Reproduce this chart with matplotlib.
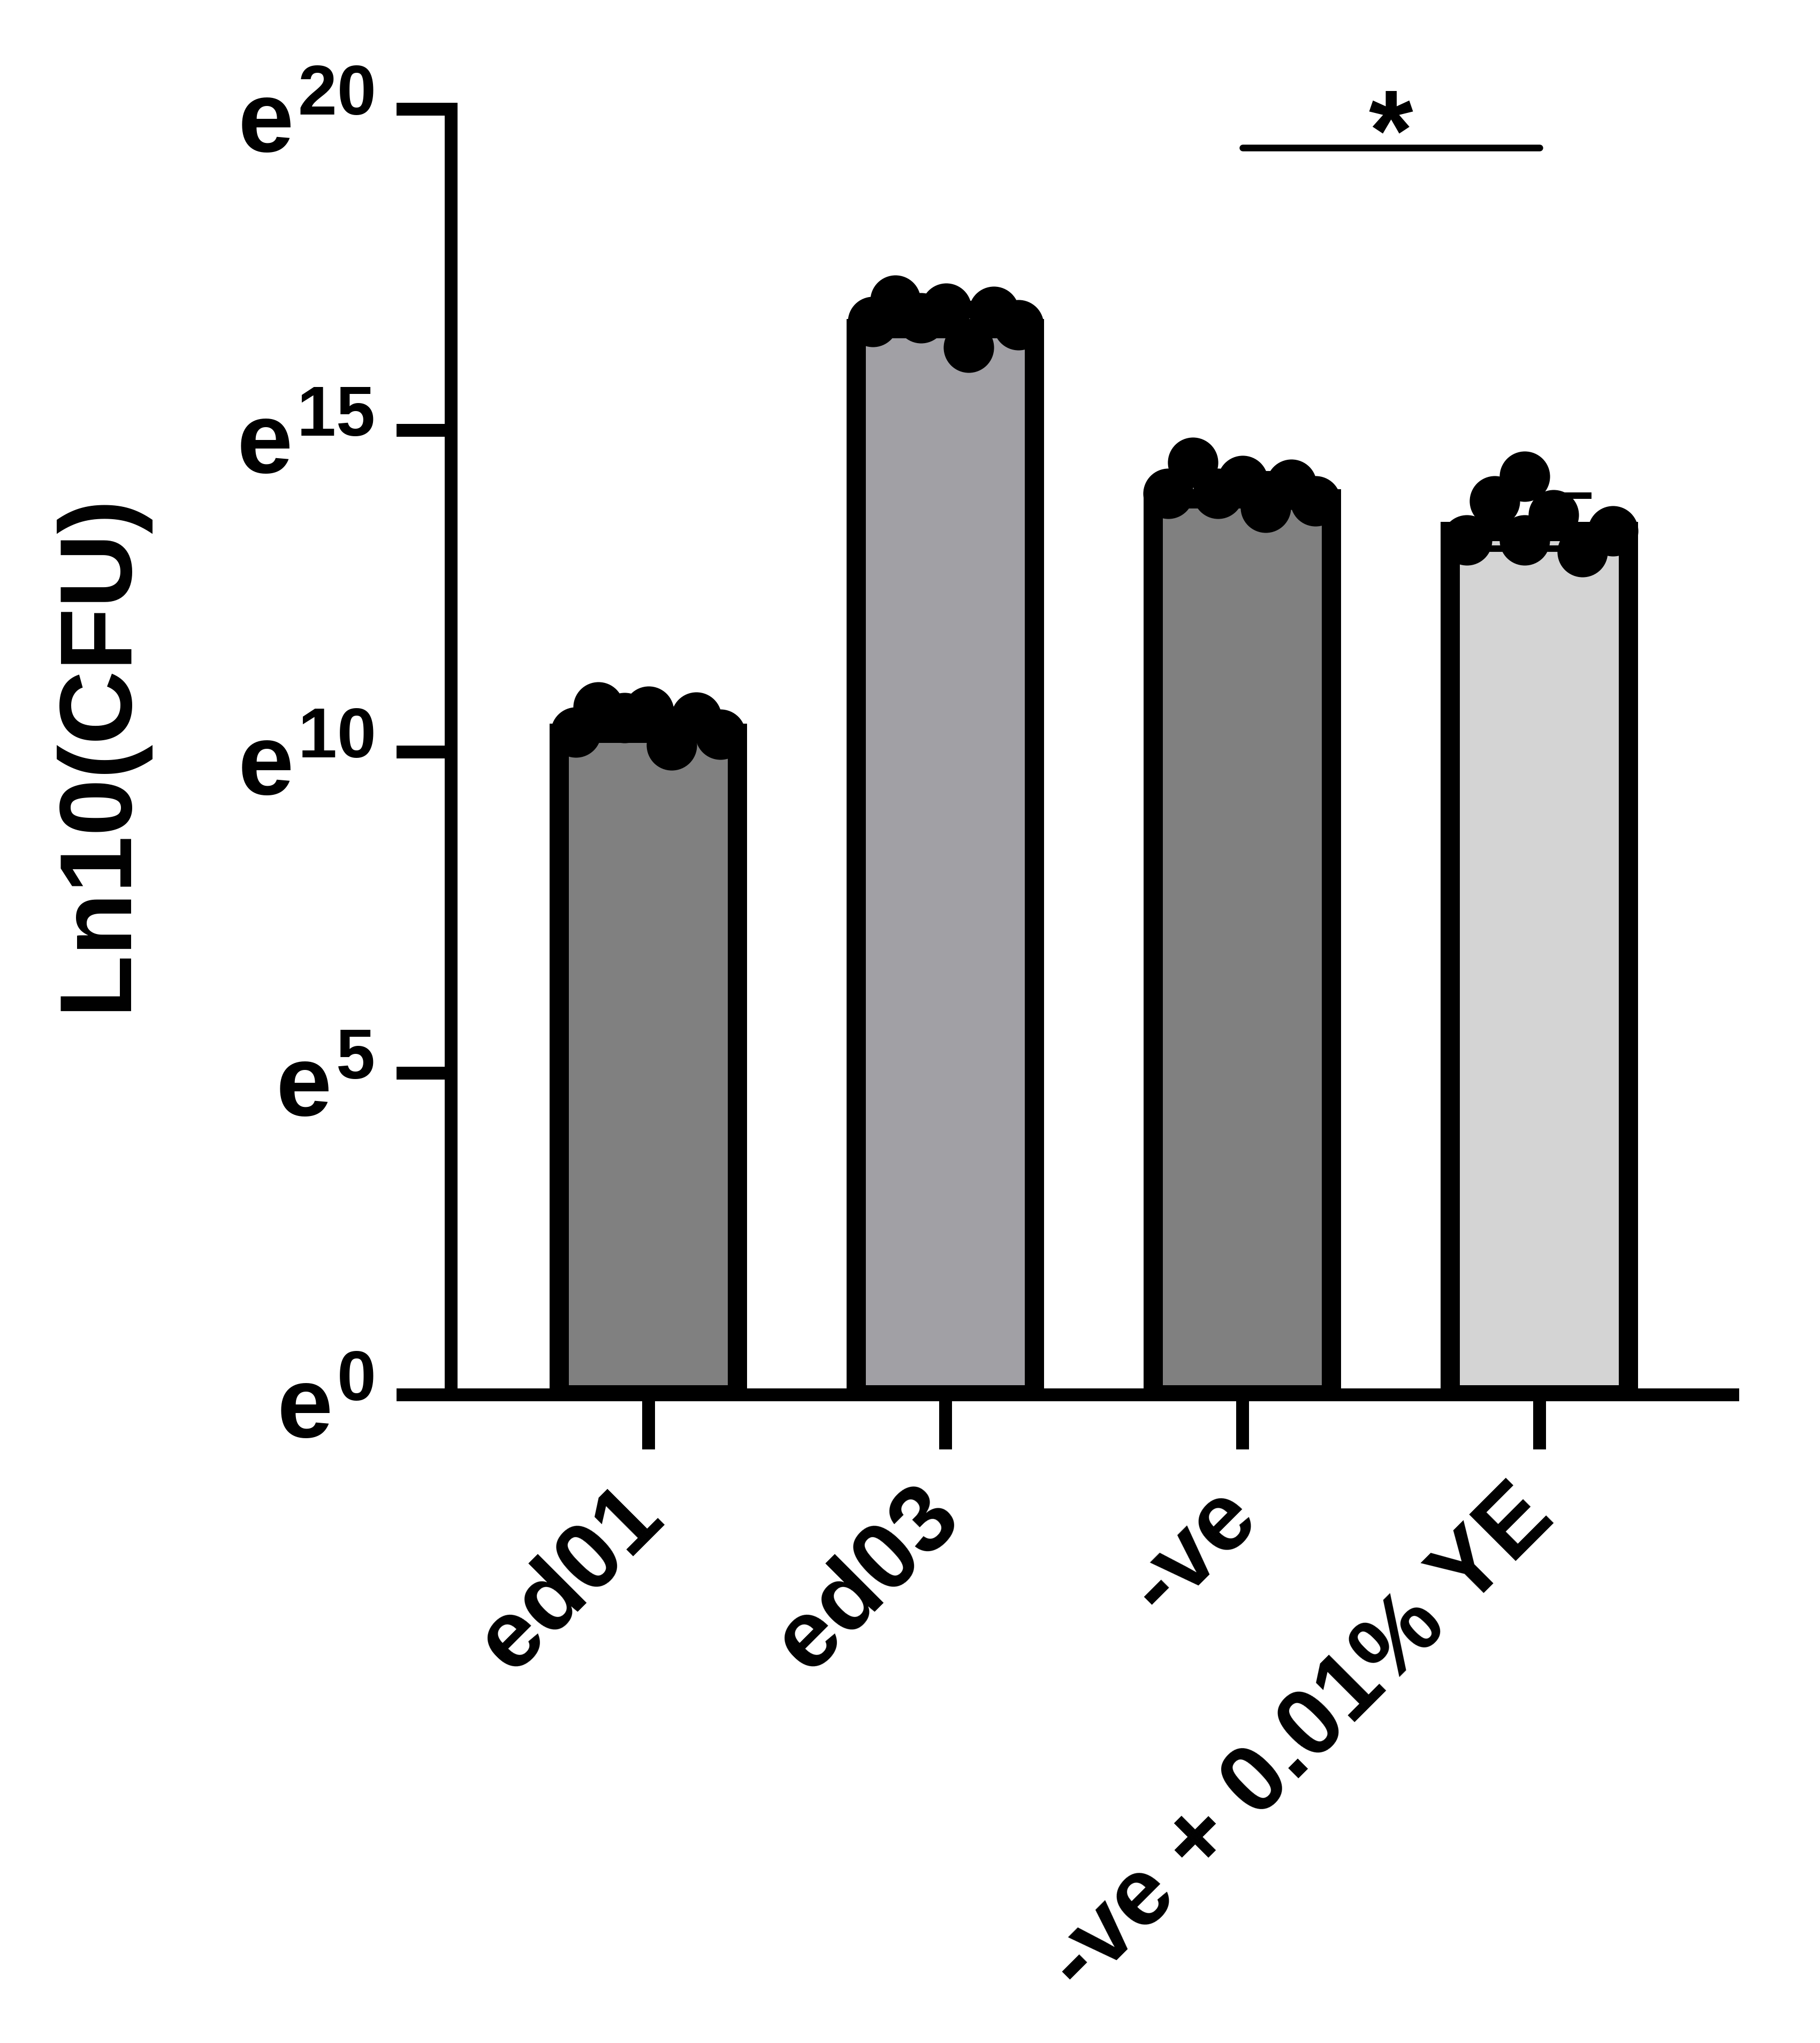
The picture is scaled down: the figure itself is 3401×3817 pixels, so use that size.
import numpy as np
import matplotlib
matplotlib.use('Agg')
import matplotlib.pyplot as plt
from matplotlib.transforms import ScaledTranslation

plt.rcParams['font.family'] = 'Liberation Sans'
plt.rcParams['font.weight'] = 'bold'
plt.rcParams['mathtext.fontset'] = 'custom'
plt.rcParams['mathtext.rm'] = 'Liberation Sans:bold'
plt.rcParams['mathtext.it'] = 'Liberation Sans:bold'
plt.rcParams['mathtext.bf'] = 'Liberation Sans:bold'

# data (natural-log units)
groups = ['ed01', 'ed03', '-ve', '-ve + 0.01% YE']
ed01 = [10.31, 10.70, 10.53, 10.63, 10.11, 10.54, 10.27]
ed03 = [16.69, 17.03, 16.75, 16.90, 16.29, 16.85, 16.64]
neg = [14.02, 14.50, 14.02, 14.22, 13.80, 14.16, 13.90]
neg_ye = [13.30, 13.90, 14.29, 13.30, 13.69, 13.11, 13.44]
bar_colors = ['#808080', '#A1A0A5', '#808080', '#D4D4D4']

ytick_vals = [0, 5, 10, 15, 20]
ytick_labels = ['$e^{0}$', '$e^{5}$', '$e^{10}$', '$e^{15}$', '$e^{20}$']

# horizontal scatter of the dots inside each bar
spread = [[-0.245, -0.169, -0.081, 0.0, 0.079, 0.162, 0.243],
          [-0.245, -0.168, -0.083, 0.002, 0.079, 0.162, 0.245],
          [-0.249, -0.166, -0.083, 0.0, 0.079, 0.164, 0.245],
          [-0.245, -0.150, -0.050, -0.050, 0.047, 0.144, 0.247]]

sig_pair = (2, 3)
sig_label = '*'

LW = 5.76      # axis line width (pt)

data = [ed01, ed03, neg, neg_ye]
means = np.array([np.mean(d) for d in data])
sds = np.array([np.std(d, ddof=1) for d in data])
x = np.arange(len(groups))

fig = plt.figure(figsize=(3401 / 300, 3817 / 300), dpi=300)
ax = fig.add_axes([843 / 3401, 1 - 2605.5 / 3817, (3238 - 843) / 3401, (2605.5 - 204) / 3817])

# bar border sits inside the bar in the original, so shrink the box by half the edge
edge = 8.64
inset_y = 0.15
ax.bar(x, means - inset_y, width=0.60, color=bar_colors, edgecolor='black',
       linewidth=edge, zorder=1)
ax.errorbar(x, means, yerr=sds, fmt='none', ecolor='black', elinewidth=2.9,
            capsize=23.3, capthick=2.9, zorder=2)
for i, d in enumerate(data):
    ax.plot(x[i] + np.array(spread[i]), d, 'o', color='black', markersize=22.6,
            markeredgewidth=0, zorder=3, clip_on=False)

# significance bar
ax.plot(sig_pair, [19.4, 19.4], color='black', lw=3, solid_capstyle='round', clip_on=False)
ax.text(np.mean(sig_pair), 19.06, sig_label, ha='center', va='baseline',
        fontsize=51, fontweight='bold', clip_on=False)

ax.set_xlim(-0.664, 3.651)
ax.set_ylim(0, 20)
ax.set_yticks(ytick_vals)
ax.set_yticklabels(ytick_labels)
ax.set_xticks(x)
ax.set_xticklabels(groups, rotation=45, ha='right', va='center', rotation_mode='anchor')

for s in ['top', 'right']:
    ax.spines[s].set_visible(False)
for s in ['left', 'bottom']:
    ax.spines[s].set_linewidth(LW)
ax.tick_params(axis='both', width=LW, length=24.5)
ax.tick_params(axis='y', pad=10, labelsize=45)
ax.tick_params(axis='x', pad=24, labelsize=43)

shift = ScaledTranslation(0, -12 / 300, fig.dpi_scale_trans)
for lab in ax.get_yticklabels():
    lab.set_transform(lab.get_transform() + shift)

ax.set_ylabel('Ln10(CFU)', fontsize=46, fontweight='bold')
ax.yaxis.set_label_coords(-0.238, 0.5)

fig.savefig('out.png', dpi=300)
